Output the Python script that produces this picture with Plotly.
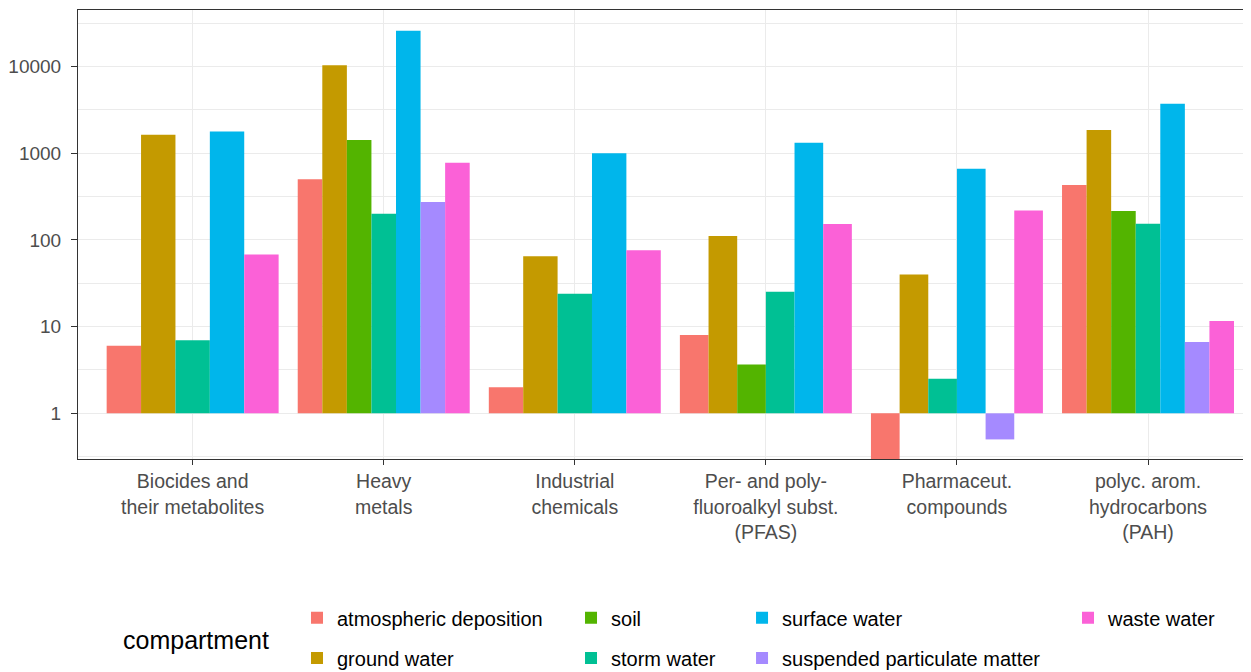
import plotly.graph_objects as go

categories = [
    "Biocides and<br>their metabolites",
    "Heavy<br>metals",
    "Industrial<br>chemicals",
    "Per- and poly-<br>fluoroalkyl subst.<br>(PFAS)",
    "Pharmaceut.<br>compounds",
    "polyc. arom.<br>hydrocarbons<br>(PAH)",
]

compartments = [
    "atmospheric deposition", "ground water", "soil", "storm water",
    "surface water", "suspended particulate matter", "waste water",
]
colors = ["#F8766D", "#C49A00", "#53B400", "#00C094", "#00B6EB", "#A58AFF", "#FB61D7"]

# values per compartment, aligned with categories (None = no data)
atmospheric_deposition = [6.0, 500, 2.0, 8.0, 0.25, 430]
ground_water = [1640, 10400, 65, 111, 40, 1850]
soil = [None, 1420, None, 3.65, None, 216]
storm_water = [6.95, 200, 24, 25.3, 2.5, 154]
surface_water = [1780, 26000, 1000, 1320, 665, 3730]
suspended_particulate_matter = [None, 274, None, None, 0.5, 6.65]
waste_water = [68, 780, 76, 153, 218, 11.6]

series = [atmospheric_deposition, ground_water, soil, storm_water,
          surface_water, suspended_particulate_matter, waste_water]

y_tickvals = [1, 10, 100, 1000, 10000]
y_ticktext = ["1", "10", "100", "1000", "10000"]
y_minor = [10 ** -0.5, 10 ** 0.5, 10 ** 1.5, 10 ** 2.5, 10 ** 3.5, 10 ** 4.5]

# ggplot-like dodge: bars of each category share 0.9 of the slot
DODGE = 0.9
present = [[k for k in range(len(series)) if series[k][i] is not None] for i in range(len(categories))]

# legend placement (column/row layout like the ggplot legend)
ROW1, ROW2 = -0.3537, -0.4434
legend_pos = {
    0: (0.1867, ROW1), 1: (0.1867, ROW2),
    2: (0.4203, ROW1), 3: (0.4203, ROW2),
    4: (0.5661, ROW1), 5: (0.5661, ROW2),
    6: (0.8440, ROW1),
}

FONT = "Liberation Sans, Arial, sans-serif"

fig = go.Figure()
for k, (name, vals) in enumerate(zip(compartments, series)):
    xs, ys, widths, offsets, raw = [], [], [], [], []
    for i, v in enumerate(vals):
        if v is None:
            continue
        n = len(present[i])
        j = present[i].index(k)
        w = DODGE / n
        xs.append(categories[i])
        ys.append(v - 1)
        raw.append(v)
        widths.append(w)
        offsets.append(-DODGE / 2 + j * w)
    lname = "legend" if k == 0 else f"legend{k + 1}"
    fig.add_trace(go.Bar(
        x=xs, y=ys, base=1, width=widths, offset=offsets,
        name=name, marker=dict(color=colors[k], line=dict(width=0)),
        customdata=raw,
        hovertemplate="%{x}<br>" + name + ": %{customdata}<extra></extra>",
        legend=lname,
    ))

legend_layout = {}
for k in range(len(compartments)):
    lname = "legend" if k == 0 else f"legend{k + 1}"
    lx, ly = legend_pos[k]
    legend_layout[lname] = dict(
        x=lx, y=ly, xanchor="left", yanchor="middle",
        bgcolor="rgba(0,0,0,0)", borderwidth=0,
        font=dict(family=FONT, size=20, color="#000000"),
    )

# the page body adds an 8px margin, so the figure is sized to fit the window
fig.update_layout(
    width=1243, height=664,
    margin=dict(l=70, r=0, t=2, b=213, autoexpand=False),
    paper_bgcolor="white", plot_bgcolor="white",
    barmode="overlay",
    showlegend=True,
    font=dict(family=FONT, color="#4D4D4D"),
    **legend_layout,
)

fig.update_xaxes(
    type="category",
    categoryorder="array", categoryarray=categories,
    range=[-0.6, 5.539],
    showgrid=True, gridcolor="#EBEBEB", gridwidth=1,
    showline=True, linecolor="#333333", linewidth=1, mirror=True,
    ticks="outside", ticklen=5, tickcolor="#333333", tickwidth=1,
    tickfont=dict(size=19.5, color="#4D4D4D"),
    zeroline=False,
)
fig.update_yaxes(
    type="log",
    range=[-0.527, 4.653],
    tickmode="array", tickvals=y_tickvals, ticktext=y_ticktext,
    showgrid=True, gridcolor="#EBEBEB", gridwidth=1,
    minor=dict(tickmode="array", tickvals=y_minor, showgrid=True,
               gridcolor="#EBEBEB", gridwidth=1, ticks=""),
    showline=True, linecolor="#333333", linewidth=1, mirror=False,
    ticks="outside", ticklen=6, tickcolor="#333333", tickwidth=1,
    tickfont=dict(size=19, color="#4D4D4D"),
    ticklabelstandoff=6,
    zeroline=False,
)

fig.add_annotation(
    text="compartment", xref="paper", yref="paper",
    x=0.0366, y=-0.4022, xanchor="left", yanchor="middle",
    showarrow=False,
    font=dict(family=FONT, size=25, color="#000000"),
)

fig.write_html("out.html")
